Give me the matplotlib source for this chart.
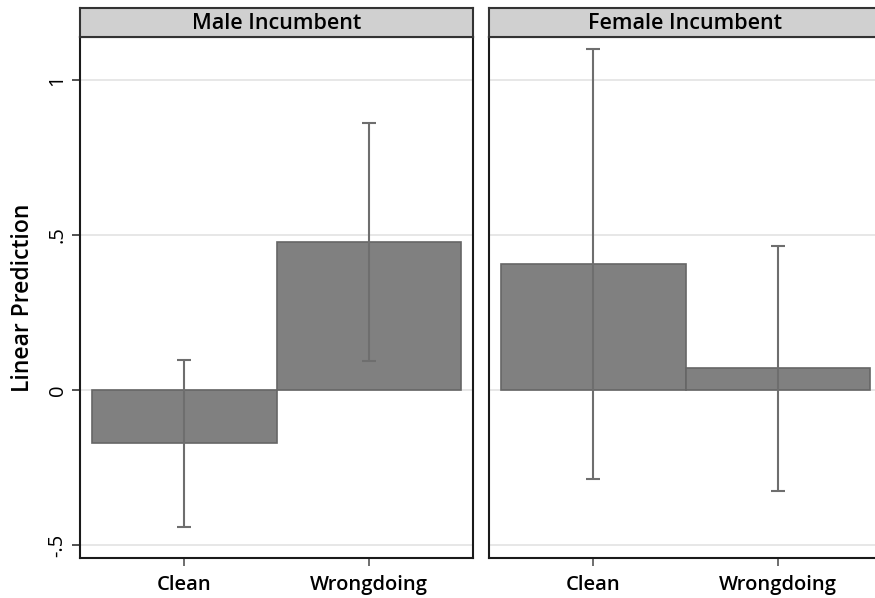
import numpy as np
import matplotlib.pyplot as plt

# Datos
categorias = ["Clean", "Wrongdoing"]
paneles = ["Male Incumbent", "Female Incumbent"]
prediccion = {
    "Male Incumbent": [-0.171, 0.477],
    "Female Incumbent": [0.406, 0.071],
}
ic_bajo = {
    "Male Incumbent": [-0.442, 0.094],
    "Female Incumbent": [-0.287, -0.326],
}
ic_alto = {
    "Male Incumbent": [0.097, 0.861],
    "Female Incumbent": [1.100, 0.465],
}
yticks = [-0.5, 0, 0.5, 1]
yticklabels = ["-.5", "0", ".5", "1"]

plt.rcParams["font.family"] = ["Open Sans", "DejaVu Sans"]

W, H = 875, 598
fig = plt.figure(figsize=(W / 100, H / 100), dpi=100)

colorBorde = "#1a1a1a"
izquierdas = [80, 489]
ancho = 393
arriba, abajo = 37, 558

for k, panel in enumerate(paneles):
    x0 = izquierdas[k]
    ax = fig.add_axes([x0 / W, (H - abajo) / H, ancho / W, (abajo - arriba) / H])
    x = np.arange(len(categorias))
    vals = np.array(prediccion[panel])
    lo = np.array(ic_bajo[panel])
    hi = np.array(ic_alto[panel])

    for yv in yticks:
        ax.axhline(yv, color="#e3e3e3", lw=1.2, zorder=0)

    ax.bar(x, vals, width=1.0, color="#808080", edgecolor="#666666",
           linewidth=1.2, zorder=2)
    ax.errorbar(x, vals, yerr=[vals - lo, hi - vals], fmt="none",
                ecolor="#6e6e6e", elinewidth=1.5, capsize=5, capthick=1.5,
                zorder=3)

    ax.set_xlim(-0.565, 1.565)
    ax.set_ylim(-0.542, 1.139)
    ax.set_xticks(x)
    ax.set_xticklabels(categorias, fontsize=14.5, fontweight="semibold")
    ax.tick_params(axis="x", length=6, width=1.2, color="#555555", pad=6)
    ax.set_yticks(yticks)
    if k == 0:
        ax.set_yticklabels(yticklabels, rotation=90, va="center",
                           fontsize=14.5)
        ax.tick_params(axis="y", length=6, width=1.2, color="#333333", pad=3)
        ax.set_ylabel("Linear Prediction", fontsize=16.5,
                      fontweight="semibold", labelpad=9)
    else:
        ax.tick_params(axis="y", left=False, labelleft=False)
    for s in ax.spines.values():
        s.set_color(colorBorde)
        s.set_linewidth(1.5)

    # Encabezado del panel
    axh = fig.add_axes([x0 / W, (H - arriba) / H, ancho / W, (arriba - 8) / H])
    axh.set_facecolor("#d0d0d0")
    axh.set_xticks([])
    axh.set_yticks([])
    for s in axh.spines.values():
        s.set_color("#333333")
        s.set_linewidth(1.5)
    axh.text(0.5, 0.48, panel, ha="center", va="center", fontsize=15.5,
             fontweight="semibold", transform=axh.transAxes)

fig.savefig("out.png", dpi=100)
